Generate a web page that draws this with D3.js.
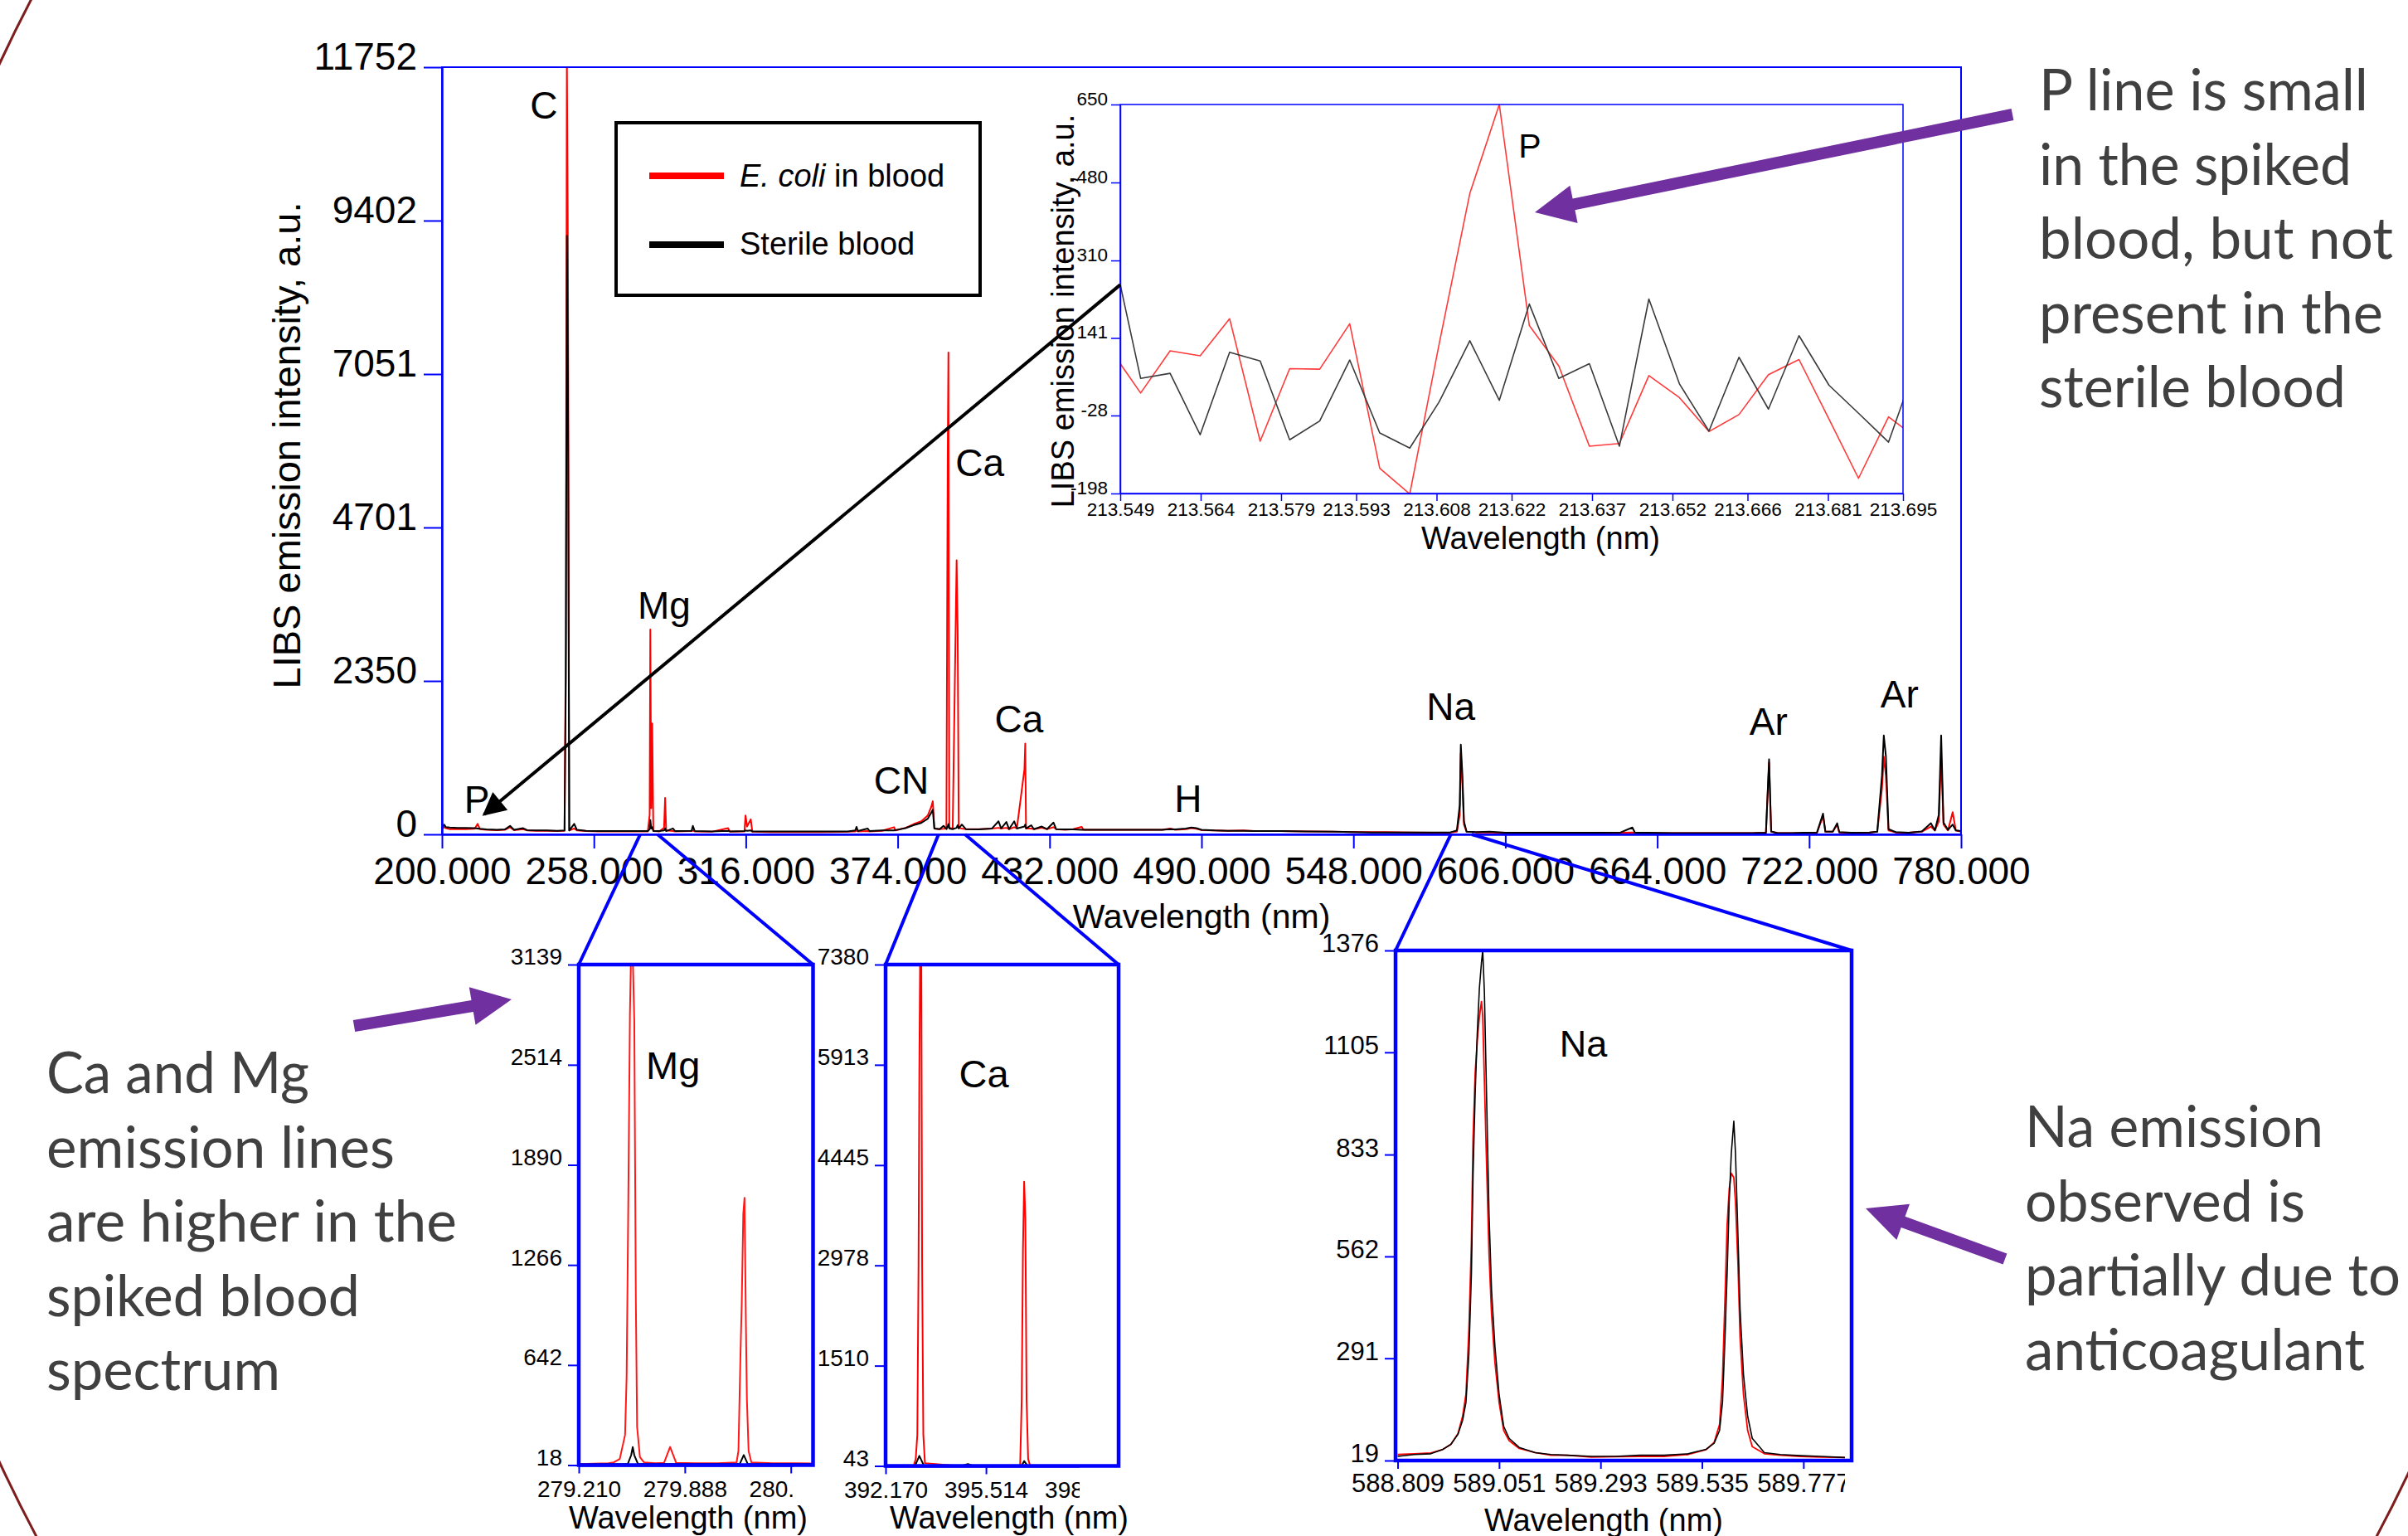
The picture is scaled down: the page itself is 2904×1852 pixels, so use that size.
<!DOCTYPE html>
<html>
<head>
<meta charset="utf-8">
<script src="https://cdn.jsdelivr.net/npm/d3@7"></script>
<style>
	body { margin: 0; background: #fff; }
	svg { display: block; }
</style>
</head>
<body>
<div id="chart-area"></div>
<script>

// ---------- main LIBS spectrum, 200-780 nm ----------
const mainWavelength = [
	200.0, 200.8, 201.5, 203, 206, 209, 212.5, 213.6, 214.5, 217,
	221, 224, 226, 227.5, 231, 232.5, 236, 240, 244, 246.8,
	247.3, 247.7, 248.1, 248.6, 250.5, 251.5, 255, 260, 265, 270,
	275, 278.6, 279.3, 279.55, 279.9, 280.27, 280.7, 283, 284.8, 285.2,
	285.6, 288.2, 289, 295.3, 295.8, 296.5, 303, 309.2, 310, 315.5,
	315.9, 316.5, 317.9, 318.5, 325, 335, 345, 355, 357.8, 358.3,
	358.8, 362.5, 363.3, 368, 372.6, 373.2, 377, 380, 383, 385.5,
	386.8, 387.4, 388.0, 390, 391.5, 392.6, 393.1, 393.37, 393.7, 395,
	396.5, 396.9, 397.3, 398.5, 400, 405, 410, 412.5, 413.5, 415.5,
	416.5, 418.5, 419.5, 422.4, 422.7, 423.0, 425, 426, 429, 431,
	433.5, 434.5, 438, 441, 444.2, 445, 450, 460, 470, 475,
	478, 480, 484, 486.1, 488, 490, 495, 500, 506, 510,
	520, 530, 540, 548, 555, 560, 570, 578, 585, 587.5,
	588.6, 589.0, 589.6, 590.2, 591.2, 595, 600, 606, 612, 620,
	630, 640, 650, 654.5, 655.5, 660, 670, 680, 690, 700,
	705.5, 706.7, 707.5, 710, 715, 720, 725, 727.3, 728.2, 731,
	732.7, 733.5, 738, 745, 748, 749.8, 750.5, 751.3, 752.3, 755,
	760, 765, 768.5, 770, 771.5, 772.4, 773.3, 775, 776.8, 778, 780
];
const mainEcoli = [
	90, 110, 95, 80, 80, 80, 85, 160, 80, 70,
	65, 70, 110, 65, 80, 60, 55, 55, 50, 55,
	3000, 11900, 8800, 60, 90, 60, 50, 45, 45, 45,
	45, 45, 300, 3139, 400, 1700, 50, 45, 100, 560,
	60, 50, 45, 50, 60, 45, 40, 95, 40, 45,
	290, 120, 230, 40, 35, 35, 35, 40, 45, 60,
	45, 50, 45, 55, 110, 60, 100, 155, 200, 290,
	420, 507, 90, 80, 85, 90, 5800, 7380, 100, 90,
	4200, 3130, 100, 90, 80, 80, 90, 100, 90, 100,
	80, 110, 90, 1000, 1390, 90, 90, 80, 100, 80,
	110, 80, 70, 80, 115, 70, 70, 70, 70, 70,
	90, 70, 80, 95, 85, 65, 60, 55, 60, 50,
	50, 45, 40, 35, 35, 35, 30, 25, 30, 40,
	300, 1240, 780, 150, 40, 30, 30, 25, 20, 20,
	20, 20, 25, 30, 25, 20, 20, 20, 20, 20,
	25, 1100, 40, 20, 20, 20, 25, 280, 40, 40,
	150, 30, 25, 25, 40, 700, 1190, 900, 60, 30,
	25, 40, 120, 60, 200, 1200, 150, 60, 340, 60, 40
];
const mainSterile = [
	95, 150, 110, 105, 100, 100, 95, 90, 85, 75,
	70, 75, 130, 70, 95, 65, 60, 60, 55, 60,
	2400, 9170, 6900, 60, 160, 70, 55, 50, 50, 50,
	50, 50, 80, 220, 90, 110, 50, 50, 60, 90,
	50, 90, 50, 55, 130, 50, 45, 55, 45, 50,
	60, 55, 60, 45, 45, 45, 45, 45, 60, 115,
	50, 90, 50, 60, 60, 65, 95, 140, 175, 240,
	330, 376, 90, 80, 130, 80, 120, 160, 90, 80,
	100, 140, 90, 150, 80, 75, 90, 200, 90, 190,
	80, 200, 90, 120, 150, 90, 140, 80, 120, 80,
	180, 80, 75, 75, 70, 70, 70, 70, 70, 70,
	80, 75, 90, 105, 95, 70, 60, 55, 55, 50,
	50, 45, 40, 35, 30, 30, 30, 30, 30, 60,
	450, 1376, 916, 200, 40, 35, 40, 25, 25, 25,
	25, 25, 30, 105, 25, 25, 20, 20, 20, 20,
	25, 1150, 45, 20, 20, 25, 30, 317, 40, 40,
	170, 35, 25, 30, 40, 900, 1515, 1200, 80, 35,
	25, 45, 170, 60, 300, 1515, 180, 70, 150, 60, 50
];
const mainXTicks = [200, 258, 316, 374, 432, 490, 548, 606, 664, 722, 780];
const mainYTicks = [0, 2350, 4701, 7051, 9402, 11752];
const mainPeakNames = ["P", "C", "Mg", "CN", "Ca", "Ca", "H", "Na", "Ar", "Ar"];
const mainPeakWavelength = [213.3, 238.9, 284.8, 375.4, 405.4, 420.3, 484.9, 585.2, 706.5, 756.5];
const mainPeakHeight = [330, 10961, 3303, 622, 5492, 1559, 343, 1753, 1525, 1948];

// ---------- P 213.6 nm inset ----------
const pWavelength = [
	213.5471, 213.5528, 213.5583, 213.5639, 213.5694, 213.5751, 213.5806, 213.5862, 213.5918, 213.5974,
	213.6030, 213.6085, 213.6142, 213.6197, 213.6253, 213.6308, 213.6365, 213.6421, 213.6476, 213.6533,
	213.6588, 213.6644, 213.6699, 213.6756, 213.6812, 213.6867, 213.6923, 213.6979
];
const pEcoli = [
	117, 21, 113, 102, 183, -84, 74, 73, 172, -143,
	-199, 129, 456, 650, 168, 80, -95, -89, 59, 11,
	-63, -26, 61, 94, -36, -165, -31, -80
];
const pSterile = [
	359, 53, 64, -70, 110, 91, -81, -40, 93, -66,
	-99, 2, 135, 5, 215, 53, 85, -95, 226, 41,
	-62, 99, -14, 146, 38, -23, -86, 99
];
const pXTicks = [213.549, 213.564, 213.579, 213.593, 213.608, 213.622, 213.637, 213.652, 213.666, 213.681, 213.695];
const pYTicks = [-198, -28, 141, 310, 480, 650];

// ---------- Mg 279-280 nm inset ----------
const mgEcoliWavelength = [
	279.21, 279.40, 279.434, 279.472, 279.506, 279.516, 279.526, 279.537, 279.544, 279.555,
	279.565, 279.575, 279.583, 279.601, 279.627, 279.70, 279.755, 279.794, 279.833, 279.95,
	280.10, 280.219, 280.231, 280.244, 280.252, 280.262, 280.270, 280.278, 280.285, 280.296,
	280.314, 280.45, 280.60, 280.708
];
const mgEcoli = [
	25, 30, 35, 56, 206, 570, 1585, 2826, 3200, 3200,
	2788, 1033, 256, 68, 35, 30, 32, 131, 32, 30,
	30, 35, 106, 707, 1021, 1585, 1685, 958, 432, 106,
	35, 30, 30, 28
];
const mgSterileWavelength = [279.21, 279.45, 279.524, 279.545, 279.555, 279.565, 279.588, 279.80, 280.10, 280.24, 280.265, 280.29, 280.50, 280.708];
const mgSterile = [22, 24, 26, 80, 131, 80, 26, 24, 24, 26, 81, 26, 25, 24];
const mgXTicks = [279.210, 279.888, 280.566];
const mgYTicks = [18, 642, 1266, 1890, 2514, 3139];

// ---------- Ca 393-397 nm inset ----------
const caEcoliWavelength = [
	392.17, 392.80, 393.106, 393.173, 393.227, 393.267, 393.294, 393.320, 393.360, 393.387,
	393.427, 393.481, 394.50, 396.00, 396.651, 396.704, 396.745, 396.785, 396.825, 396.865,
	396.918, 396.985, 398.50, 399.93
];
const caEcoli = [
	43, 45, 45, 143, 496, 2967, 5821, 7450, 7450, 2967,
	496, 84, 45, 45, 45, 1026, 3203, 4203, 3673, 1026,
	143, 45, 45, 45
];
const caSterileWavelength = [392.17, 393.15, 393.294, 393.45, 394.70, 394.91, 395.10, 396.70, 396.785, 396.90, 399.93];
const caSterile = [43, 45, 190, 45, 45, 72, 45, 45, 114, 45, 43];
const caXTicks = [392.170, 395.514, 398.858];
const caYTicks = [43, 1510, 2978, 4445, 5913, 7380];

// ---------- Na doublet inset ----------
const naWavelength = [
	588.809, 588.849, 588.888, 588.916, 588.936, 588.953, 588.964, 588.972, 588.979, 588.985,
	588.989, 588.994, 588.999, 589.004, 589.009, 589.012, 589.016, 589.021, 589.027, 589.033,
	589.041, 589.051, 589.062, 589.075, 589.099, 589.137, 589.175, 589.214, 589.271, 589.329,
	589.387, 589.444, 589.502, 589.545, 589.564, 589.577, 589.584, 589.590, 589.595, 589.600,
	589.605, 589.611, 589.615, 589.621, 589.626, 589.634, 589.644, 589.655, 589.684, 589.722,
	589.770, 589.818, 589.876
];
const naEcoli = [
	35, 37, 39, 48, 62, 91, 137, 195, 366, 601,
	879, 1050, 1136, 1200, 1240, 1200, 1029, 815, 569, 409,
	281, 174, 99, 72, 51, 40, 33, 33, 28, 29,
	30, 30, 35, 48, 67, 115, 238, 452, 644, 740,
	783, 772, 708, 537, 345, 195, 99, 56, 37, 33,
	30, 28, 27
];
const naSterile = [
	30, 35, 37, 48, 62, 89, 126, 174, 302, 516,
	783, 997, 1157, 1275, 1344, 1376, 1264, 997, 676, 473,
	324, 195, 110, 78, 54, 40, 35, 33, 30, 30,
	33, 33, 37, 49, 65, 99, 174, 345, 516, 708,
	836, 922, 836, 612, 420, 249, 137, 78, 40, 35,
	32, 30, 27
];
const naXTicks = [588.809, 589.051, 589.293, 589.535, 589.777];
const naYTicks = [19, 291, 562, 833, 1105, 1376];

// ---------- annotation text ----------
const noteP = ["P line is small", "in the spiked", "blood, but not", "present in the", "sterile blood"];
const noteCaMg = ["Ca and Mg", "emission lines", "are higher in the", "spiked blood", "spectrum"];
const noteNa = ["Na emission", "observed is", "partially due to", "anticoagulant"];


const W = 2904, H = 1852;
const BLUE = "#0000ff";
const chartFont = "'Liberation Sans', Arial, sans-serif";
const noteFont = "Lato, 'Open Sans', sans-serif";

let svg = d3.select("#chart-area").append("svg")
	.attr("width", W)
	.attr("height", H)
	.attr("viewBox", `0 0 ${W} ${H}`);

svg.append("rect").attr("width", W).attr("height", H).attr("fill", "#fff");

// slide decoration: big oval outline
svg.append("clipPath").attr("id", "oval-clip")
	.append("path").attr("d", "M0,0H2380V330H2904V1852H0Z");
svg.append("ellipse")
	.attr("cx", 1455).attr("cy", 920).attr("rx", 1640).attr("ry", 1830)
	.attr("fill", "none").attr("stroke", "#7d1d1d").attr("stroke-width", 3)
	.attr("clip-path", "url(#oval-clip)");


/*
 * SpectrumPanel - one framed spectrum plot (main chart or a zoomed inset)
 */
class SpectrumPanel {

	constructor(svg, config) {
		this.svg = svg;
		this.config = config;
		this.initVis();
	}

	initVis() {
		let vis = this;
		let c = vis.config;

		vis.x = d3.scaleLinear().domain(c.xDomain).range([c.left, c.right]);
		vis.y = d3.scaleLinear().domain(c.yDomain).range([c.bottom, c.top]);

		vis.g = vis.svg.append("g").attr("class", "panel-" + c.id);

		vis.g.append("clipPath").attr("id", "clip-" + c.id)
			.append("rect")
			.attr("x", c.left).attr("y", c.top)
			.attr("width", c.right - c.left).attr("height", c.bottom - c.top);

		vis.g.append("clipPath").attr("id", "tickclip-" + c.id)
			.append("rect")
			.attr("x", 0).attr("y", -200)
			.attr("width", c.tickClip || W).attr("height", 600);

		vis.updateVis();
	}

	updateVis() {
		let vis = this;
		let c = vis.config;

		vis.g.append("rect")
			.attr("x", c.left).attr("y", c.top)
			.attr("width", c.right - c.left).attr("height", c.bottom - c.top)
			.attr("fill", "#fff");

		let line = d3.line()
			.x(d => vis.x(d[0]))
			.y(d => vis.y(d[1]));

		vis.g.append("g")
			.attr("clip-path", `url(#clip-${c.id})`)
			.selectAll("path")
			.data(c.series)
			.enter()
			.append("path")
			.attr("d", s => line(d3.zip(s.x, s.y)))
			.attr("fill", "none")
			.attr("stroke", s => s.color)
			.attr("stroke-width", s => s.width)
			.attr("stroke-linejoin", "round");

		vis.g.append("rect")
			.attr("x", c.left).attr("y", c.top)
			.attr("width", c.right - c.left).attr("height", c.bottom - c.top)
			.attr("fill", "none")
			.attr("stroke", BLUE)
			.attr("stroke-width", c.frame);

		// x axis
		let xAxis = d3.axisBottom(vis.x)
			.tickValues(c.xTicks)
			.tickFormat(d3.format(".3f"))
			.tickSize(c.xTickLen)
			.tickSizeOuter(0)
			.tickPadding(c.xPad);

		let gx = vis.g.append("g")
			.attr("transform", `translate(0,${c.bottom})`)
			.attr("clip-path", `url(#tickclip-${c.id})`)
			.call(xAxis);

		// y axis
		let yAxis = d3.axisLeft(vis.y)
			.tickValues(c.yTicks)
			.tickFormat(d => d)
			.tickSize(c.yTickLen)
			.tickSizeOuter(0)
			.tickPadding(c.yPad);

		let gy = vis.g.append("g")
			.attr("transform", `translate(${c.left},0)`)
			.call(yAxis);
		gy.selectAll(".tick text").attr("y", c.yShift);

		[gx, gy].forEach(ax => {
			ax.select(".domain").attr("stroke", BLUE).attr("stroke-width", c.axisWidth);
			ax.selectAll(".tick line").attr("stroke", BLUE).attr("stroke-width", c.tickWidth);
			ax.selectAll(".tick text")
				.attr("font-family", chartFont)
				.attr("font-size", c.tickFont)
				.attr("fill", "#000");
		});

		// axis titles
		vis.g.append("text")
			.attr("x", c.xTitle[0]).attr("y", c.xTitle[1])
			.attr("text-anchor", "middle")
			.attr("font-family", chartFont)
			.attr("font-size", c.xTitle[2])
			.text("Wavelength (nm)");

		if (c.yTitle) {
			vis.g.append("text")
				.attr("transform", `translate(${c.yTitle[0]},${c.yTitle[1]}) rotate(-90)`)
				.attr("text-anchor", "middle")
				.attr("font-family", chartFont)
				.attr("font-size", c.yTitle[2])
				.text("LIBS emission intensity, a.u.");
		}

		// element labels
		vis.g.append("g")
			.selectAll("text")
			.data(c.names)
			.enter()
			.append("text")
			.attr("x", (d, i) => vis.x(c.nameAt[i]))
			.attr("y", (d, i) => vis.y(c.nameHeight[i]))
			.attr("text-anchor", "middle")
			.attr("font-family", chartFont)
			.attr("font-size", c.nameFont)
			.text(d => d);
	}
}


let main = new SpectrumPanel(svg, {
	id: "main",
	left: 533, right: 2365, top: 81, bottom: 1006,
	xDomain: [200, 780], yDomain: [0, 11752],
	xTicks: mainXTicks, yTicks: mainYTicks,
	frame: 2, axisWidth: 2.5, tickWidth: 2,
	xTickLen: 17, xPad: 10, yTickLen: 22, yPad: 8, yShift: -12, tickFont: 46,
	xTitle: [1449, 1119, 41], yTitle: [362, 537, 47],
	names: mainPeakNames, nameAt: mainPeakWavelength, nameHeight: mainPeakHeight, nameFont: 46,
	series: [
		{x: mainWavelength, y: mainEcoli, color: "#ff0000", width: 2},
		{x: mainWavelength, y: mainSterile, color: "#000000", width: 2}
	]
});

let pInset = new SpectrumPanel(svg, {
	id: "p",
	left: 1351, right: 2295, top: 126, bottom: 595,
	xDomain: [213.549, 213.695], yDomain: [-198, 650],
	xTicks: pXTicks, yTicks: pYTicks,
	frame: 1.5, axisWidth: 1.5, tickWidth: 1.5,
	xTickLen: 9, xPad: 2, yTickLen: 11, yPad: 4, yShift: -7, tickFont: 22.5,
	xTitle: [1858, 662, 38], yTitle: [1295, 375, 38],
	names: ["P"], nameAt: [213.6254], nameHeight: [534], nameFont: 41,
	series: [
		{x: pWavelength, y: pEcoli, color: "#ff3a3a", width: 1.6},
		{x: pWavelength, y: pSterile, color: "#3a3a3a", width: 1.6}
	]
});

let mgInset = new SpectrumPanel(svg, {
	id: "mg",
	left: 698, right: 980.5, top: 1163, bottom: 1766.5,
	xDomain: [279.21, 280.708], yDomain: [18, 3139],
	xTicks: mgXTicks, yTicks: mgYTicks, tickClip: 957,
	frame: 4.5, axisWidth: 3, tickWidth: 2,
	xTickLen: 10, xPad: 9, yTickLen: 13, yPad: 7, yShift: -9, tickFont: 28,
	xTitle: [830, 1843, 38],
	names: ["Mg"], nameAt: [279.813], nameHeight: [2425], nameFont: 47,
	series: [
		{x: mgEcoliWavelength, y: mgEcoli, color: "#ff1a1a", width: 2},
		{x: mgSterileWavelength, y: mgSterile, color: "#000000", width: 2}
	]
});

let caInset = new SpectrumPanel(svg, {
	id: "ca",
	left: 1068, right: 1349, top: 1163, bottom: 1767.5,
	xDomain: [392.17, 399.93], yDomain: [43, 7380],
	xTicks: caXTicks, yTicks: caYTicks, tickClip: 1302,
	frame: 4.5, axisWidth: 3, tickWidth: 2,
	xTickLen: 10, xPad: 9, yTickLen: 13, yPad: 7, yShift: -9, tickFont: 28,
	xTitle: [1217, 1843, 38],
	names: ["Ca"], nameAt: [395.445], nameHeight: [5584], nameFont: 47,
	series: [
		{x: caEcoliWavelength, y: caEcoli, color: "#ff0000", width: 2},
		{x: caSterileWavelength, y: caSterile, color: "#000000", width: 2}
	]
});

let naInset = new SpectrumPanel(svg, {
	id: "na",
	left: 1683, right: 2233, top: 1146, bottom: 1761,
	xDomain: [588.804, 589.892], yDomain: [19, 1376],
	xTicks: naXTicks, yTicks: naYTicks, tickClip: 2225,
	frame: 4.5, axisWidth: 3, tickWidth: 2,
	xTickLen: 10, xPad: 6, yTickLen: 13, yPad: 7, yShift: -8, tickFont: 31,
	xTitle: [1934, 1846, 38],
	names: ["Na"], nameAt: [589.252], nameHeight: [1093], nameFont: 45,
	series: [
		{x: naWavelength, y: naEcoli, color: "#ff0000", width: 1.8},
		{x: naWavelength, y: naSterile, color: "#000000", width: 1.6}
	]
});


// zoom connectors from the main wavelength axis to each inset
let zooms = [
	{from: [275.7, 282.3], inset: mgInset},
	{from: [389.6, 399.7], inset: caInset},
	{from: [585.2, 593.2], inset: naInset}
];
let conn = svg.append("g").attr("stroke", BLUE).attr("stroke-width", 4);
zooms.forEach(z => {
	let c = z.inset.config;
	conn.append("line")
		.attr("x1", main.x(z.from[0])).attr("y1", main.config.bottom)
		.attr("x2", c.left).attr("y2", c.top);
	conn.append("line")
		.attr("x1", main.x(z.from[1])).attr("y1", main.config.bottom)
		.attr("x2", c.right).attr("y2", c.top);
});

// legend
let legend = svg.append("g");
legend.append("rect")
	.attr("x", 743).attr("y", 148).attr("width", 439).attr("height", 208)
	.attr("fill", "#fff").attr("stroke", "#000").attr("stroke-width", 4);
[["#ff0000", 212], ["#000000", 295]].forEach(d => {
	legend.append("line")
		.attr("x1", 783).attr("x2", 873).attr("y1", d[1]).attr("y2", d[1])
		.attr("stroke", d[0]).attr("stroke-width", 8);
});
let leg1 = legend.append("text")
	.attr("x", 892).attr("y", 225)
	.attr("font-family", chartFont).attr("font-size", 38);
leg1.append("tspan").attr("font-style", "italic").text("E. coli");
leg1.append("tspan").text(" in blood");
legend.append("text")
	.attr("x", 892).attr("y", 307)
	.attr("font-family", chartFont).attr("font-size", 38)
	.text("Sterile blood");

// black arrow: P inset -> P line on the main spectrum
svg.append("defs").append("marker")
	.attr("id", "blackhead")
	.attr("viewBox", "0 0 10 10")
	.attr("refX", 9).attr("refY", 5)
	.attr("markerWidth", 9).attr("markerHeight", 7)
	.attr("markerUnits", "strokeWidth")
	.attr("orient", "auto")
	.append("path").attr("d", "M0,0L10,5L0,10Z").attr("fill", "#000");
svg.append("line")
	.attr("x1", pInset.x(213.549)).attr("y1", pInset.y(257))
	.attr("x2", main.x(216.1)).attr("y2", main.y(305))
	.attr("stroke", "#000").attr("stroke-width", 4)
	.attr("marker-end", "url(#blackhead)");

// purple block arrows
function blockArrow(tail, tip, shaft, headW, headL) {
	let dx = tip[0] - tail[0], dy = tip[1] - tail[1];
	let len = Math.hypot(dx, dy);
	let ux = dx / len, uy = dy / len;
	let px = -uy, py = ux;
	let bx = tip[0] - ux * headL, by = tip[1] - uy * headL;
	let pts = [
		[tail[0] + px * shaft / 2, tail[1] + py * shaft / 2],
		[bx + px * shaft / 2, by + py * shaft / 2],
		[bx + px * headW / 2, by + py * headW / 2],
		tip,
		[bx - px * headW / 2, by - py * headW / 2],
		[bx - px * shaft / 2, by - py * shaft / 2],
		[tail[0] - px * shaft / 2, tail[1] - py * shaft / 2]
	];
	return "M" + pts.map(p => p[0].toFixed(1) + "," + p[1].toFixed(1)).join("L") + "Z";
}
let arrows = [
	{tail: [2427, 138], tip: [1851, 256]},
	{tail: [427, 1237], tip: [617, 1205]},
	{tail: [2418, 1518], tip: [2250, 1457]}
];
svg.append("g")
	.selectAll("path")
	.data(arrows)
	.enter()
	.append("path")
	.attr("d", d => blockArrow(d.tail, d.tip, 14, 46, 48))
	.attr("fill", "#7030a0");

// side notes
function note(lines, x, y0, widths) {
	let t = svg.append("g")
		.attr("font-family", noteFont)
		.attr("font-size", 69)
		.attr("fill", "#404040");
	t.selectAll("text")
		.data(lines)
		.enter()
		.append("text")
		.attr("x", x)
		.attr("y", (d, i) => y0 + i * 89.6)
		.attr("textLength", (d, i) => widths[i])
		.attr("lengthAdjust", "spacingAndGlyphs")
		.text(d => d);
}
note(noteP, 2459, 133, [397, 377, 427, 415, 370]);
note(noteCaMg, 56, 1318, [317, 420, 495, 378, 282]);
note(noteNa, 2442, 1383, [360, 338, 453, 410]);

</script>
</body>
</html>
